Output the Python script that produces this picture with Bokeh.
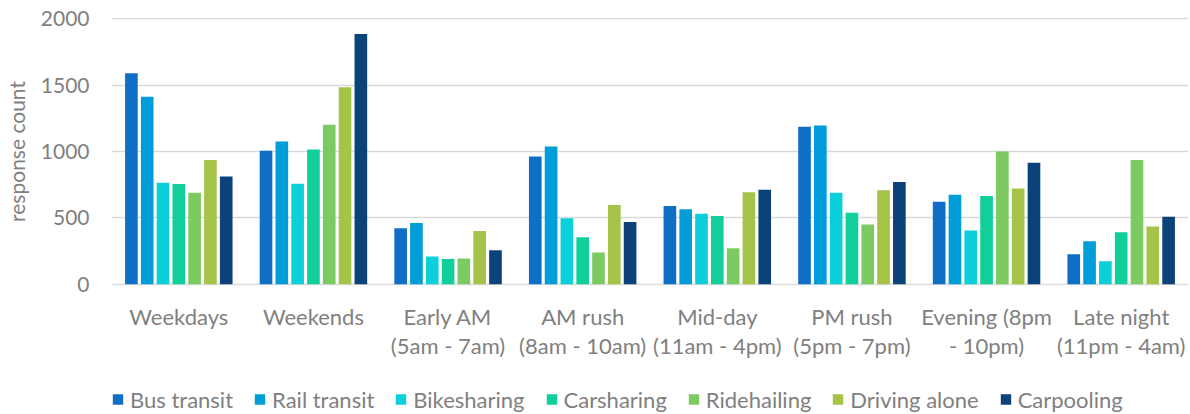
from bokeh.plotting import figure
from bokeh.layouts import column
from bokeh.models import Range1d, FixedTicker, Legend, LegendItem
from bokeh.embed import file_html
from bokeh.resources import INLINE

categories = ["Weekdays", "Weekends", "Early AM\n(5am - 7am)", "AM rush\n(8am - 10am)",
              "Mid-day\n(11am - 4pm)", "PM rush\n(5pm - 7pm)", "Evening (8pm\n- 10pm)",
              "Late night\n(11pm - 4am)"]
series_names = ["Bus transit", "Rail transit", "Bikesharing", "Carsharing",
                "Ridehailing", "Driving alone", "Carpooling"]
bus_transit = [1590, 1005, 421, 963, 589, 1186, 622, 226]
rail_transit = [1412, 1075, 461, 1038, 564, 1196, 674, 323]
bikesharing = [765, 757, 208, 496, 531, 690, 404, 173]
carsharing = [755, 1015, 190, 353, 514, 539, 664, 391]
ridehailing = [690, 1201, 193, 238, 271, 449, 1000, 935]
driving_alone = [935, 1484, 401, 597, 692, 707, 722, 434]
carpooling = [812, 1885, 256, 469, 712, 770, 915, 509]
series_values = [bus_transit, rail_transit, bikesharing, carsharing,
                 ridehailing, driving_alone, carpooling]
colors = ["#0F6FC6", "#009DD9", "#0BD0D9", "#10CF9B", "#7CCA62", "#A5C249", "#0B427A"]
y_ticks = [0, 500, 1000, 1500, 2000]

FONT = "Lato"
GREY = "#808080"

p = figure(width=1188, height=384, output_backend="svg", toolbar_location=None,
           x_range=Range1d(-0.5, 7.5), y_range=Range1d(-10, 2010),
           min_border_left=111, min_border_right=0, min_border_top=17,
           min_border_bottom=99)
p.outline_line_color = None
p.background_fill_color = "white"

pitch = 0.1174
for i, (name, vals, col) in enumerate(zip(series_names, series_values, colors)):
    xs = [k + (i - 3) * pitch for k in range(len(categories))]
    p.vbar(x=xs, top=vals, bottom=0, width=0.094, fill_color=col, line_color=None)

p.xgrid.grid_line_color = None
p.ygrid.grid_line_color = "#D9D9D9"
p.ygrid.grid_line_width = 1.3
p.ygrid.ticker = FixedTicker(ticks=y_ticks)

p.yaxis.ticker = FixedTicker(ticks=y_ticks)
p.yaxis.axis_line_color = None
p.yaxis.major_tick_line_color = None
p.yaxis.minor_tick_line_color = None
p.yaxis.major_tick_out = 0
p.yaxis.major_label_standoff = 22
p.yaxis.major_label_text_font = FONT
p.yaxis.major_label_text_font_size = "21px"
p.yaxis.major_label_text_color = GREY
p.yaxis.axis_label = "response count"
p.yaxis.axis_label_text_font = FONT
p.yaxis.axis_label_text_font_size = "21px"
p.yaxis.axis_label_text_font_style = "normal"
p.yaxis.axis_label_text_color = GREY
p.yaxis.axis_label_standoff = 9

p.xaxis.ticker = FixedTicker(ticks=list(range(len(categories))))
p.xaxis.major_label_overrides = {k: c for k, c in enumerate(categories)}
p.xaxis.axis_line_color = None
p.xaxis.major_tick_line_color = None
p.xaxis.minor_tick_line_color = None
p.xaxis.major_tick_out = 0
p.xaxis.major_label_standoff = 17
p.xaxis.major_label_text_font = FONT
p.xaxis.major_label_text_font_size = "22px"
p.xaxis.major_label_text_color = GREY
p.xaxis.major_label_text_line_height = 1.09

# legend row
pl = figure(width=1188, height=30, output_backend="svg", toolbar_location=None,
            x_range=Range1d(0, 1), y_range=Range1d(0, 1),
            x_axis_location=None, y_axis_location=None, min_border=0)
pl.outline_line_color = None
pl.grid.grid_line_color = None
items = []
for name, col in zip(series_names, colors):
    r = pl.vbar(x=[0.5], top=[0], bottom=[0], width=0.01, fill_color=col, line_color=None)
    items.append(LegendItem(label=name, renderers=[r]))
legend = Legend(items=items, orientation="horizontal", location="left",
                glyph_width=13, glyph_height=13, label_standoff=6, spacing=20,
                label_text_font=FONT, label_text_font_size="22px",
                label_text_color=GREY, border_line_color=None,
                background_fill_alpha=0, padding=0, margin=0)
pl.add_layout(legend, "center")

layout = column(p, pl, spacing=0)
open("out.html", "w").write(file_html(layout, INLINE))
